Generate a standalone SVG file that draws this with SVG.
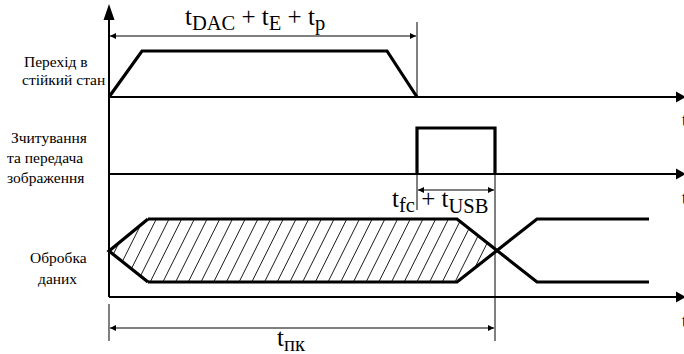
<svg xmlns="http://www.w3.org/2000/svg" width="684" height="354" viewBox="0 0 684 354">
<defs>
<marker id="ah" viewBox="0 0 10 10" refX="10" refY="5" markerWidth="9" markerHeight="6" markerUnits="userSpaceOnUse" orient="auto-start-reverse">
<path d="M0,0 L10,5 L0,10 Z" fill="#000"/>
</marker>
<clipPath id="hexclip">
<path d="M109,251 L148,219 L457,219 L495,251 L457,282 L148,282 Z"/>
</clipPath>
</defs>
<rect width="684" height="354" fill="#fff"/>
<g id="axes">
<g stroke="#000" stroke-width="2" fill="none">
<path d="M109,18 V297"/>
<path d="M109,97 H677"/>
<path d="M109,174 H677"/>
<path d="M109,297 H677"/>
</g>
<g fill="#000">
<path d="M103.5,20 L109,4 L114.5,20 Z"/>
<path d="M676,91.5 L686,97 L676,102.5 Z"/>
<path d="M676,168.5 L686,174 L676,179.5 Z"/>
<path d="M676,291.5 L686,297 L676,302.5 Z"/>
</g>
<g font-family="Liberation Serif" font-size="18" fill="#000">
<text x="682" y="126" font-family="Liberation Serif">t</text>
<text x="682" y="204" font-family="Liberation Serif">t</text>
<text x="682" y="327" font-family="Liberation Serif">t</text>
</g>
</g>
<g id="row1">
<text x="24" y="67" font-family="Liberation Serif" font-size="15.5">Перехід в</text>
<text x="22" y="85" font-family="Liberation Serif" font-size="15.5">стійкий стан</text>
<path d="M109,97 L142,51 L387,51 L417,97" stroke="#000" stroke-width="3.2" fill="none"/>
</g>
<g id="row2">
<text x="11" y="143" font-family="Liberation Serif" font-size="15.5">Зчитування</text>
<text x="7" y="163" font-family="Liberation Serif" font-size="15.5">та передача</text>
<text x="7" y="183" font-family="Liberation Serif" font-size="15.5">зображення</text>
<path d="M417,174 V128 H495 V174" stroke="#000" stroke-width="3.2" fill="none"/>
</g>
<g id="row3">
<text x="30" y="263" font-family="Liberation Serif" font-size="15.5">Обробка</text>
<text x="38" y="284" font-family="Liberation Serif" font-size="15.5">даних</text>
<g clip-path="url(#hexclip)">
<path stroke="#000" stroke-width="0.9" fill="none" d="M70,290 L110,210 M82.7,290 L122.7,210 M95.4,290 L135.4,210 M108.1,290 L148.1,210 M120.8,290 L160.8,210 M133.5,290 L173.5,210 M146.2,290 L186.2,210 M158.9,290 L198.9,210 M171.6,290 L211.6,210 M184.3,290 L224.3,210 M197,290 L237,210 M209.7,290 L249.7,210 M222.4,290 L262.4,210 M235.1,290 L275.1,210 M247.8,290 L287.8,210 M260.5,290 L300.5,210 M273.2,290 L313.2,210 M285.9,290 L325.9,210 M298.6,290 L338.6,210 M311.3,290 L351.3,210 M324,290 L364,210 M336.7,290 L376.7,210 M349.4,290 L389.4,210 M362.1,290 L402.1,210 M374.8,290 L414.8,210 M387.5,290 L427.5,210 M400.2,290 L440.2,210 M412.9,290 L452.9,210 M425.6,290 L465.6,210 M438.3,290 L478.3,210 M451,290 L491,210 M463.7,290 L503.7,210"/>
</g>
<g stroke="#000" stroke-width="3.2" fill="none">
<path d="M148,219 L109,251 L148,282"/>
<path d="M148,219 L457,219 L537,282 L649,282"/>
<path d="M148,282 L457,282 L537,219 L649,219"/>
</g>
</g>
<g id="connectors" stroke="#000" stroke-width="1" fill="none">
<path d="M417,22 V97"/>
<path d="M417,174 V210"/>
<path d="M495,174 V341"/>
<path d="M109,304 V341"/>
<path d="M110,36 H416" marker-start="url(#ah)" marker-end="url(#ah)"/>
<path d="M418,190 H494" marker-start="url(#ah)" marker-end="url(#ah)"/>
<path d="M110,328 H494" marker-start="url(#ah)" marker-end="url(#ah)"/>
</g>
<g id="labels">
<text x="185" y="25" font-family="Liberation Serif" font-size="25">t<tspan font-size="20.5" dy="5">DAC</tspan><tspan dy="-5"> + t</tspan><tspan font-size="20.5" dy="5">E</tspan><tspan dy="-5"> + t</tspan><tspan font-size="20.5" dy="5">p</tspan></text>
<text x="392" y="207" font-family="Liberation Serif" font-size="25">t<tspan font-size="20.5" dy="5">fc</tspan><tspan dy="-5"> + t</tspan><tspan font-size="20.5" dy="6">USB</tspan></text>
<text x="277" y="346" font-family="Liberation Serif" font-size="25">t<tspan font-size="20.5" dy="5">пк</tspan></text>
</g>
</svg>
